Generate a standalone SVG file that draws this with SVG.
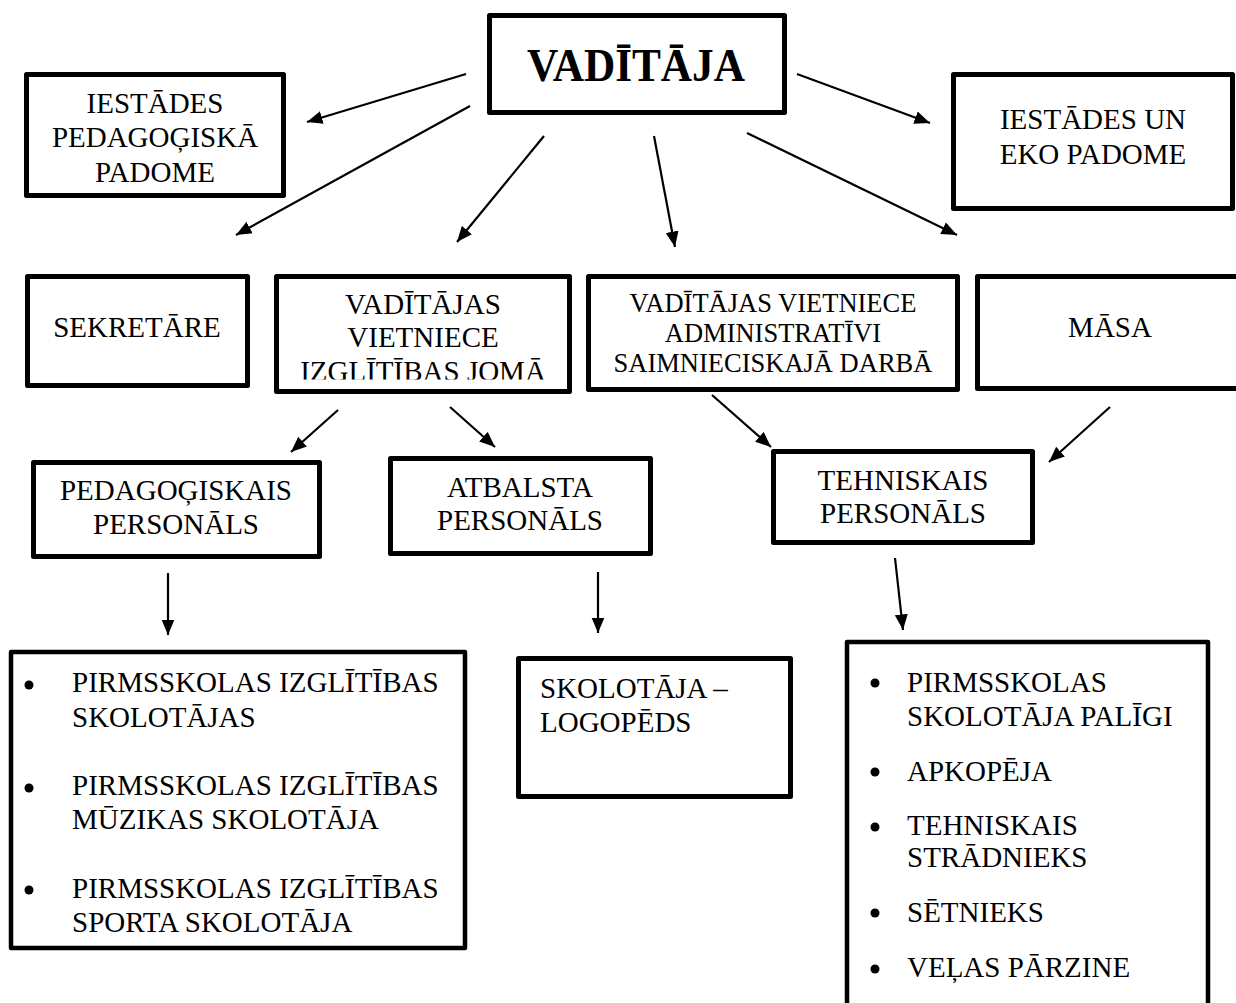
<svg xmlns="http://www.w3.org/2000/svg" width="1236" height="1003" viewBox="0 0 1236 1003">
<style>
.box{fill:#fff;stroke:#000;stroke-width:5;stroke-linejoin:round}
.lbox{fill:#fff;stroke:#000;stroke-width:4.5;stroke-linejoin:round}
text{font-family:"Liberation Serif","Times New Roman",serif;font-size:29px;fill:#000}
.c{text-anchor:middle}
.sm{font-size:26.5px}
.title{font-size:47px;font-weight:bold}
.conn line{stroke:#000;stroke-width:2.2;marker-end:url(#ah)}
.bul{fill:#000}
</style>
<defs>
<marker id="ah" markerUnits="userSpaceOnUse" markerWidth="16" markerHeight="14" refX="15.5" refY="7" orient="auto">
<path d="M0,0.5 L15.5,7 L0,13.5 z" fill="#000"/>
</marker>
<clipPath id="clipIzgl"><rect x="274" y="274" width="298" height="105.5"/></clipPath>
</defs>
<rect width="1236" height="1003" fill="#fff"/>

<g id="connectors" class="conn">
<line x1="466" y1="74" x2="307" y2="122"/>
<line x1="470" y1="106" x2="236" y2="235"/>
<line x1="544" y1="136" x2="457" y2="242"/>
<line x1="654" y1="136" x2="675" y2="247"/>
<line x1="747" y1="133" x2="957" y2="235"/>
<line x1="797" y1="74" x2="930" y2="123"/>
<line x1="338" y1="410" x2="291" y2="452"/>
<line x1="450" y1="407" x2="495" y2="447"/>
<line x1="712" y1="395" x2="771" y2="447"/>
<line x1="1110" y1="407" x2="1049" y2="462"/>
<line x1="168" y1="573" x2="168" y2="635"/>
<line x1="598" y1="572" x2="598" y2="633"/>
<line x1="895" y1="558" x2="903" y2="630"/>
</g>

<g id="vaditaja">
<rect class="box" x="489.5" y="15.5" width="295" height="97"/>
<text class="c title" x="636" y="81" textLength="218" lengthAdjust="spacingAndGlyphs">VADĪTĀJA</text>
</g>

<g id="pedagogiska-padome">
<rect class="box" x="26.5" y="74.5" width="257" height="121"/>
<text class="c" x="155" y="113">IESTĀDES</text>
<text class="c" x="155" y="147">PEDAGOĢISKĀ</text>
<text class="c" x="155" y="182">PADOME</text>
</g>

<g id="eko-padome">
<rect class="box" x="953.5" y="74.5" width="279" height="134"/>
<text class="c" x="1093" y="129">IESTĀDES UN</text>
<text class="c" x="1093" y="164">EKO PADOME</text>
</g>

<g id="sekretare">
<rect class="box" x="27.5" y="276.5" width="220" height="109"/>
<text class="c" x="137" y="337">SEKRETĀRE</text>
</g>

<g id="vietniece-izglitiba">
<rect class="box" x="276.5" y="276.5" width="293" height="115"/>
<text class="c" x="423" y="314">VADĪTĀJAS</text>
<text class="c" x="423" y="347">VIETNIECE</text>
<text class="c" x="423" y="381" clip-path="url(#clipIzgl)">IZGLĪTĪBAS JOMĀ</text>
</g>

<g id="vietniece-admin">
<rect class="box" x="588.5" y="276.5" width="369" height="113"/>
<text class="c sm" x="773" y="312">VADĪTĀJAS VIETNIECE</text>
<text class="c sm" x="773" y="342">ADMINISTRATĪVI</text>
<text class="c sm" x="773" y="372">SAIMNIECISKAJĀ DARBĀ</text>
</g>

<g id="masa">
<rect class="box" x="977.5" y="276.5" width="265" height="112"/>
<text class="c" x="1110" y="337">MĀSA</text>
</g>

<g id="pedagogiskais-personals">
<rect class="box" x="33.5" y="462.5" width="286" height="94"/>
<text class="c" x="176" y="500">PEDAGOĢISKAIS</text>
<text class="c" x="176" y="534">PERSONĀLS</text>
</g>

<g id="atbalsta-personals">
<rect class="box" x="390.5" y="458.5" width="260" height="95"/>
<text class="c" x="520" y="497">ATBALSTA</text>
<text class="c" x="520" y="530">PERSONĀLS</text>
</g>

<g id="tehniskais-personals">
<rect class="box" x="773.5" y="451.5" width="259" height="91"/>
<text class="c" x="903" y="490">TEHNISKAIS</text>
<text class="c" x="903" y="523">PERSONĀLS</text>
</g>

<g id="skolotajas-list">
<rect class="lbox" x="11" y="652" width="454" height="296"/>
<circle class="bul" cx="29" cy="685" r="4.5"/>
<text x="72" y="692">PIRMSSKOLAS IZGLĪTĪBAS</text>
<text x="72" y="727">SKOLOTĀJAS</text>
<circle class="bul" cx="29" cy="788" r="4.5"/>
<text x="72" y="795">PIRMSSKOLAS IZGLĪTĪBAS</text>
<text x="72" y="829">MŪZIKAS SKOLOTĀJA</text>
<circle class="bul" cx="29" cy="890" r="4.5"/>
<text x="72" y="898">PIRMSSKOLAS IZGLĪTĪBAS</text>
<text x="72" y="932">SPORTA SKOLOTĀJA</text>
</g>

<g id="logopeds">
<rect class="box" x="518.5" y="658.5" width="272" height="138"/>
<text x="540" y="698">SKOLOTĀJA –</text>
<text x="540" y="732">LOGOPĒDS</text>
</g>

<g id="tehniskais-list">
<rect class="lbox" x="847" y="642" width="361" height="380"/>
<circle class="bul" cx="875" cy="683" r="4.5"/>
<text x="907" y="692">PIRMSSKOLAS</text>
<text x="907" y="726">SKOLOTĀJA PALĪGI</text>
<circle class="bul" cx="875" cy="772" r="4.5"/>
<text x="907" y="781">APKOPĒJA</text>
<circle class="bul" cx="875" cy="827" r="4.5"/>
<text x="907" y="835">TEHNISKAIS</text>
<text x="907" y="867">STRĀDNIEKS</text>
<circle class="bul" cx="875" cy="913" r="4.5"/>
<text x="907" y="922">SĒTNIEKS</text>
<circle class="bul" cx="875" cy="969" r="4.5"/>
<text x="907" y="977">VEĻAS PĀRZINE</text>
</g>
</svg>
